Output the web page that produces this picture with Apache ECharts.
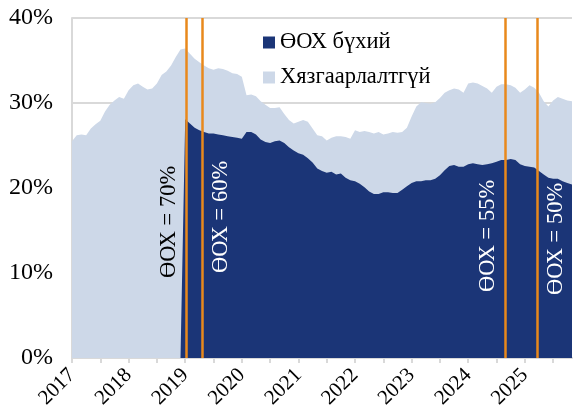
<!DOCTYPE html>
<html>
<head>
<meta charset="utf-8">
<script src="https://cdn.jsdelivr.net/npm/echarts@6/dist/echarts.min.js"></script>
<style>
  html, body { margin: 0; padding: 0; background: #ffffff; }
  #chart { width: 574px; height: 416px; }
</style>
</head>
<body>
<div id="chart"></div>
<script>
// Monthly observations, January 2017 to November 2025
const months = [];
for (let y = 2017; y <= 2025; y++) {
  for (let m = 1; m <= 12; m++) {
    if (y === 2025 && m > 11) break;
    months.push(y + '-' + String(m).padStart(2, '0'));
  }
}

// Share of loans without a debt-to-income limit (%)
const unrestricted = [
  25.5, 26.2, 26.3, 26.2, 27.0, 27.5, 27.9, 29.0, 29.8, 30.3, 30.7, 30.5,
  31.5, 32.1, 32.3, 31.9, 31.6, 31.7, 32.3, 33.3, 33.7, 34.4, 35.4, 36.3,
  36.4, 35.8, 35.2, 34.8, 34.4, 34.1, 33.9, 34.1, 34.0, 33.8, 33.5, 33.4,
  33.1, 30.9, 31.0, 30.8, 30.2, 29.8, 29.4, 29.4, 29.5, 28.7, 28.0, 27.6,
  27.8, 28.0, 27.8, 27.0, 26.2, 26.1, 25.6, 25.9, 26.1, 26.1, 26.0, 25.8,
  26.8, 26.6, 26.7, 26.6, 26.4, 26.6, 26.3, 26.4, 26.6, 26.5, 26.6, 27.1,
  28.4, 29.6, 30.1, 30.0, 29.9, 30.1, 30.6, 31.2, 31.5, 31.7, 31.6, 31.2,
  32.3, 32.4, 32.3, 32.0, 31.7, 31.2, 31.9, 32.2, 32.2, 32.1, 31.8, 31.2,
  31.6, 32.1, 31.8, 31.2, 30.2, 29.6, 30.3, 30.7, 30.5, 30.3, 30.2
];

// Share of loans subject to the debt-to-income limit (%)
const withDti = [
  null, null, null, null, null, null, null, null, null, null, null, null,
  null, null, null, null, null, null, null, null, null, null, null, 0,
  28.1, 27.6, 27.1, 26.8, 26.6, 26.4, 26.4, 26.3, 26.2, 26.1, 26.0, 25.9,
  25.8, 26.6, 26.6, 26.3, 25.7, 25.4, 25.3, 25.5, 25.6, 25.3, 24.8, 24.4,
  24.1, 23.9, 23.5, 23.0, 22.3, 22.0, 21.8, 21.9, 21.6, 21.7, 21.2, 20.9,
  20.8, 20.5, 20.1, 19.6, 19.3, 19.3, 19.5, 19.5, 19.4, 19.4, 19.8, 20.2,
  20.6, 20.8, 20.8, 20.9, 20.9, 21.1, 21.5, 22.1, 22.6, 22.7, 22.5, 22.5,
  22.8, 22.9, 22.8, 22.7, 22.8, 22.9, 23.1, 23.3, 23.3, 23.4, 23.3, 22.8,
  22.6, 22.5, 22.4, 22.0, 21.6, 21.2, 21.1, 21.1, 20.8, 20.6, 20.4
];

// DTI ceiling changes
const policyDates  = ['2019-01-06', '2019-04-19', '2024-08-25', '2025-03-22'];
const policyLabels = ['ӨОХ = 70%', 'ӨОХ = 60%', 'ӨОХ = 55%', 'ӨОХ = 50%'];

const seriesNames = ['ӨОХ бүхий', 'Хязгаарлалтгүй'];
const yTicks = [0, 10, 20, 30, 40];

const FONT = "'Liberation Serif', 'Times New Roman', 'DejaVu Serif', serif";
const DARK = '#1b3577';
const LIGHT = '#cdd8e8';
const ORANGE = '#e8891c';
const GRID = '#d9d9d9';

const startYear = Number(months[0].slice(0, 4));
const lastIndex = months.length - 1;

// month index (fractional) counted from January of the first year
function monthPos(dateStr) {
  const [y, m, d] = dateStr.split('-').map(Number);
  const days = new Date(y, m, 0).getDate();
  return (y - startYear) * 12 + (m - 1) + (d - 1) / days;
}

const toPairs = arr => arr
  .map((v, i) => [i, v])
  .filter(p => p[1] !== null);

// half-year ticks, yearly labels
const tickValues = [];
for (let v = 0; v <= lastIndex; v += 6) tickValues.push(v);
const labelValues = tickValues.filter(v => v % 12 === 0);

// label placement for each ceiling line: side of the line and offset along it
const labelSide  = ['insideStartTop', 'insideStartBottom', 'insideStartTop', 'insideStartBottom'];
const labelAlong = [80, 85, 66, 63];
const labelColor = ['#000000', '#ffffff', '#ffffff', '#ffffff'];

const markData = policyDates.map((d, k) => ({
  xAxis: monthPos(d),
  label: {
    show: true,
    formatter: policyLabels[k],
    position: labelSide[k],
    distance: [labelAlong[k], labelSide[k].endsWith('Top') ? 5 : 7],
    color: labelColor[k],
    fontFamily: FONT,
    fontSize: 22.5
  }
}));

const chart = echarts.init(document.getElementById('chart'), null, { renderer: 'canvas' });

chart.setOption({
  animation: false,
  backgroundColor: '#ffffff',
  grid: { left: 72, top: 18, right: 2, bottom: 58, containLabel: false },
  legend: {
    data: seriesNames,
    orient: 'vertical',
    left: 258,
    top: 26,
    icon: 'rect',
    itemWidth: 12,
    itemHeight: 12,
    itemGap: 12,
    textStyle: { fontFamily: FONT, fontSize: 22.5, color: '#000000', lineHeight: 23 }
  },
  xAxis: {
    type: 'value',
    min: 0,
    max: lastIndex,
    interval: 6,
    axisLine: { show: true, lineStyle: { color: GRID, width: 2 } },
    axisTick: {
      show: true, length: 5, customValues: tickValues,
      lineStyle: { color: GRID, width: 2 }
    },
    splitLine: { show: false },
    axisLabel: {
      customValues: labelValues,
      rotate: 45,
      margin: 14,
      fontFamily: FONT,
      fontSize: 21,
      color: '#000000',
      formatter: v => (v % 12 === 0) ? String(startYear + v / 12) : ''
    }
  },
  yAxis: {
    type: 'value',
    min: yTicks[0],
    max: yTicks[yTicks.length - 1],
    interval: 10,
    axisLine: { show: true, lineStyle: { color: GRID, width: 2 } },
    axisTick: { show: false },
    splitLine: { show: true, lineStyle: { color: GRID, width: 2 } },
    axisLabel: {
      margin: 19,
      fontFamily: FONT,
      fontSize: 24,
      color: '#000000',
      formatter: '{value}%'
    }
  },
  series: [
    {
      name: seriesNames[1],
      type: 'line',
      data: toPairs(unrestricted),
      symbol: 'none',
      lineStyle: { width: 0 },
      itemStyle: { color: LIGHT },
      areaStyle: { color: LIGHT, opacity: 1 },
      z: 2
    },
    {
      name: seriesNames[0],
      type: 'line',
      data: toPairs(withDti),
      symbol: 'none',
      lineStyle: { width: 0 },
      itemStyle: { color: DARK },
      areaStyle: { color: DARK, opacity: 1 },
      z: 3,
      markLine: {
        silent: true,
        symbol: ['none', 'none'],
        lineStyle: { color: ORANGE, width: 2.5, type: 'solid' },
        emphasis: { disabled: true },
        data: markData
      }
    }
  ]
});
</script>
</body>
</html>
